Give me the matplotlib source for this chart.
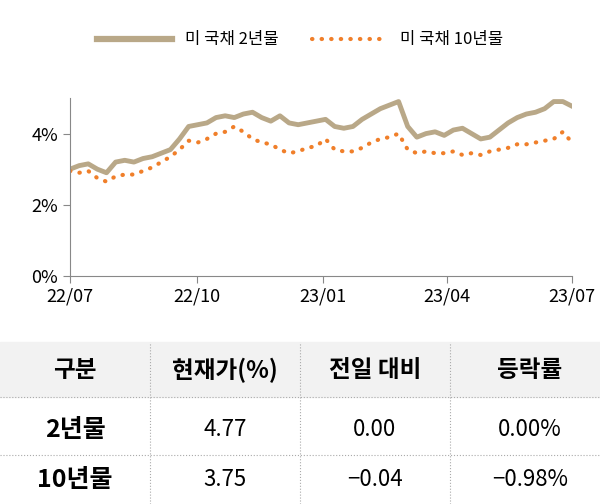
import matplotlib
matplotlib.use("Agg")
import matplotlib.pyplot as plt
import pandas as pd
from matplotlib.patches import Rectangle
from matplotlib.lines import Line2D

plt.rcParams['font.family'] = ['Noto Sans CJK KR', 'Noto Sans CJK JP', 'Noto Sans CJK SC', 'DejaVu Sans']

y2 = [3.0,3.1,3.15,3.0,2.9, 3.2,3.25,3.2,3.3,3.35, 3.45,3.55,3.85,4.2, 4.25,4.3,4.45,4.5,4.45,
      4.55,4.6,4.45,4.35,4.5, 4.3,4.25,4.3,4.35,4.4, 4.2,4.15,4.2, 4.4,4.55,4.7,4.8,4.9,
      4.2,3.9,4.0,4.05, 3.95,4.1,4.15,4.0, 3.85,3.9,4.1,4.3,4.45, 4.55,4.6,4.7,4.9,4.9, 4.77]
y10 = [2.95,2.9,2.95,2.75,2.65, 2.8,2.85,2.85,2.95,3.05, 3.2,3.35,3.55,3.8, 3.75,3.85,4.0,4.05,4.2,
       4.05,3.85,3.75,3.7,3.55, 3.45,3.5,3.6,3.65,3.85, 3.55,3.5,3.5, 3.6,3.75,3.85,3.9,4.0,
       3.55,3.45,3.5,3.45, 3.45,3.5,3.4,3.45, 3.4,3.5,3.55,3.6,3.7, 3.7,3.75,3.8,3.85,4.05, 3.75]
dates = pd.date_range("2022-07-01", "2023-07-01", periods=len(y2))
tick_dates = pd.to_datetime(["2022-07-01", "2022-10-01", "2023-01-01", "2023-04-01", "2023-07-01"])
tick_labels = ["22/07", "22/10", "23/01", "23/04", "23/07"]

headers = ["구분", "현재가(%)", "전일 대비", "등락률"]
rows = [["2년물", "4.77", "0.00", "0.00%"], ["10년물", "3.75", "\u22120.04", "\u22120.98%"]]

fig = plt.figure(figsize=(6, 5.04), dpi=100)
ax = fig.add_axes([70/600, 1-276/504, 502/600, 178/504])
c2 = "#B9A888"; c10 = "#F07F2A"
ax.plot(dates, y2, color=c2, lw=3.5)
ax.plot(dates, y10, color=c10, lw=3, linestyle=(0, (0.1, 2.2)), dash_capstyle='round')
ax.set_ylim(0, 5)
ax.set_yticks([0, 2, 4]); ax.set_yticklabels(["0%", "2%", "4%"])
ax.set_xlim(tick_dates[0], tick_dates[-1])
ax.set_xticks(tick_dates); ax.set_xticklabels(tick_labels)
for s in ["top", "right"]: ax.spines[s].set_visible(False)
ax.spines["left"].set_color("#888"); ax.spines["bottom"].set_color("#888")
ax.tick_params(labelsize=13, color="#888", length=5)

fig.legend(handles=[Line2D([], [], color=c2, lw=4.5),
                    Line2D([], [], color=c10, lw=3, linestyle=(0, (0.1, 2.2)), dash_capstyle='round')],
           labels=["미 국채 2년물", "미 국채 10년물"], loc="center", bbox_to_anchor=(0.5, 1-40/504),
           ncol=2, frameon=False, fontsize=12, handlelength=4.5, columnspacing=2)

def fy(p): return 1 - p/504
fig.patches.append(Rectangle((0, fy(397)), 1, (397-342)/504, transform=fig.transFigure,
                             color="#F2F2F2", zorder=0))
xs = [75/600, 225/600, 375/600, 530/600]
for x, h in zip(xs, headers):
    fig.text(x, fy(370), h, ha="center", va="center", fontsize=17, fontweight="bold")
for yi, row in zip([430, 480], rows):
    for j, (x, v) in enumerate(zip(xs, row)):
        fig.text(x, fy(yi), v, ha="center", va="center", fontsize=18 if j == 0 else 16,
                 fontweight="bold" if j == 0 else "normal")
for yl in [397, 455]:
    fig.add_artist(Line2D([0, 1], [fy(yl), fy(yl)], transform=fig.transFigure, color="#aaa", lw=0.8,
                          linestyle=":"))
for xl in [150, 300, 450]:
    fig.add_artist(Line2D([xl/600, xl/600], [0, fy(342)], transform=fig.transFigure, color="#aaa",
                          lw=0.8, linestyle=":"))
fig.savefig("out.png", dpi=100)
